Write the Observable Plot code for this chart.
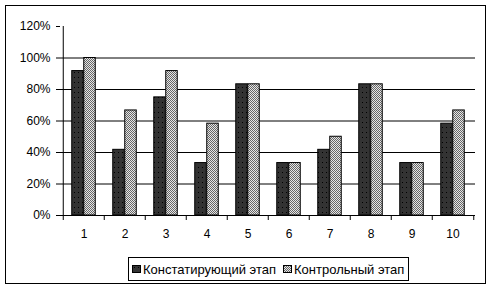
<!DOCTYPE html>
<html><head><meta charset="utf-8">
<script src="https://cdn.jsdelivr.net/npm/d3@7"></script>
<script src="https://cdn.jsdelivr.net/npm/@observablehq/plot@0.6"></script>
<style>
body{margin:0;background:#fff;font-family:"Liberation Sans",Arial,sans-serif}
#wrap{position:relative;width:491px;height:290px;overflow:hidden}
#border{position:absolute;left:5px;top:5px;width:481px;height:279px;border:1px solid #000;box-sizing:border-box;pointer-events:none}
#legend{position:absolute;left:128px;top:257px;width:281px;height:24px;border:1px solid #000;box-sizing:border-box;display:flex;align-items:center;font-size:13px;color:#000;padding-left:3px;background:#fff}
#legend svg{display:block}
#legend .item{display:flex;align-items:center;margin-right:7px;white-space:nowrap}
</style></head>
<body>
<div id="wrap"><div id="chart"></div><div id="border"></div><div id="legend"></div></div>
<script>
const categories = ["1","2","3","4","5","6","7","8","9","10"];
const seriesNames = ["Констатирующий этап","Контрольный этап"];
const konst = [0.917,0.417,0.75,0.333,0.833,0.333,0.417,0.833,0.333,0.583];
const kontr = [1.0,0.667,0.917,0.583,0.833,0.333,0.5,0.833,0.333,0.667];
const yTicks = [0,0.2,0.4,0.6,0.8,1.0,1.2];

const dataK = categories.map((c,i)=>({cat:c, value:konst[i]}));
const dataC = categories.map((c,i)=>({cat:c, value:kontr[i]}));
const half = (491-60-16)/categories.length/2;

const chart = Plot.plot({
  width: 491, height: 290,
  marginLeft: 60, marginRight: 16, marginTop: 26, marginBottom: 75,
  style: {fontFamily: '"Liberation Sans", Arial, sans-serif', fontSize: "12px", color: "#000", background: "transparent"},
  x: {type: "band", domain: categories, padding: 0, axis: null, label: null},
  y: {domain: [0, 1.2], axis: null, label: null},
  marks: [
    Plot.ruleY(yTicks.slice(1,6), {stroke: "#000", strokeWidth: 1}),
    Plot.barY(dataK, {x: "cat", y: "value", fill: "url(#pDark)", stroke: "#000", strokeWidth: 1, insetLeft: half-12, insetRight: half}),
    Plot.barY(dataC, {x: "cat", y: "value", fill: "url(#pLight)", stroke: "#000", strokeWidth: 1, insetLeft: half, insetRight: half-12}),
    Plot.ruleY([0], {stroke: "#000"}),
    Plot.ruleX([categories[0]], {y1: 0, y2: 1.2, dx: -half, stroke: "#000"}),
    Plot.axisY({ticks: yTicks, tickSize: 4, tickPadding: 6, tickFormat: d3.format(".0%"), fontSize: 12, stroke: "#000", label: null}),
    Plot.axisX({ticks: categories, tickSize: 5, dx: -half, tickFormat: () => "", stroke: "#000", label: null}),
    Plot.axisX({ticks: [categories[categories.length-1]], tickSize: 5, dx: half, tickFormat: () => "", stroke: "#000", label: null}),
    Plot.axisX({ticks: categories, tickSize: 0, tickPadding: 14, fontSize: 12, label: null})
  ]
});

const defs = `
<pattern id="pDark" width="4" height="5" patternUnits="userSpaceOnUse">
  <rect width="4" height="5" fill="#333"/><rect x="2" y="2" width="1" height="1" fill="#000"/>
</pattern>
<pattern id="pLight" width="2" height="2" patternUnits="userSpaceOnUse">
  <rect width="2" height="2" fill="#e6e6e6"/><rect width="1" height="1" fill="#666"/><rect x="1" y="1" width="1" height="1" fill="#666"/>
</pattern>`;
d3.select(chart).insert("defs", ":first-child").html(defs);
document.getElementById("chart").appendChild(chart);

const legend = document.getElementById("legend");
const fills = ["url(#lDark)","url(#lLight)"];
const legendDefs = defs.replace('id="pDark"','id="lDark"').replace('id="pLight"','id="lLight"');
seriesNames.forEach((name,i)=>{
  const item = document.createElement("span");
  item.className = "item";
  item.innerHTML = `<svg width="10" height="9" style="margin-right:1px">${i===0?`<defs>${legendDefs}</defs>`:""}<rect x="0.5" y="0.5" width="8" height="7" fill="${fills[i]}" stroke="#000"/></svg><span>${name}</span>`;
  legend.appendChild(item);
});
</script>
</body></html>
